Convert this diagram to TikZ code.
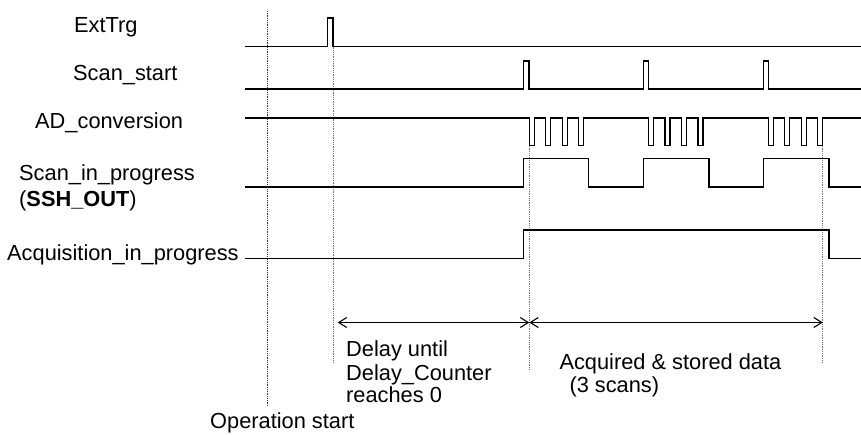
\documentclass[tikz,border=0pt]{standalone}
\usepackage{fontspec}
\setmainfont{Liberation Sans}
\usetikzlibrary{arrows.meta}
\begin{document}
\begin{tikzpicture}[x=1pt,y=-1pt,
  sig/.style={line width=1.2pt,line join=miter},
  guide/.style={densely dotted,line width=0.8pt,draw=black!55},
  lbl/.style={anchor=base west,inner sep=0pt,font=\fontsize{21.8}{24}\selectfont},
  dim/.style={line width=1.1pt,{Straight Barb[length=8pt,width=10pt,line width=1.1pt]}-{Straight Barb[length=8pt,width=10pt,line width=1.1pt]}}]
\useasboundingbox (0,0) rectangle (861,434);
% labels
\node[lbl] (lExt) at (74,32.5) {ExtTrg};
\node[lbl] (lScan) at (73,80) {Scan\_start};
\node[lbl] (lAD) at (35,128.3) {AD\_conversion};
\node[lbl] (lSip) at (19,180) {Scan\_in\_progress};
\node[lbl] (lSsh) at (19,206.7) {(\textbf{SSH\_OUT})};
\node[lbl] (lAcq) at (7,260) {Acquisition\_in\_progress};
\node[lbl] (lDelay1) at (346,356.5) {Delay until};
\node[lbl] (lDelay2) at (346,380) {Delay\_Counter};
\node[lbl] (lDelay3) at (346,402.5) {reaches 0};
\node[lbl] (lAcqd1) at (559.3,369.5) {Acquired \& stored data};
\node[lbl] (lAcqd2) at (569.3,392.5) {(3 scans)};
\node[lbl] (lOp) at (210,428.5) {Operation start};
% guide lines
\draw[guide,draw=black!80] (267.3,11) -- (267.3,406);
\draw[guide] (333,46.5) -- (333,363);
\draw[guide] (529.3,145.7) -- (529.3,370);
\draw[guide] (822.8,145.7) -- (822.8,363);
% ExtTrg
\draw[sig] (245,46.5) -- (327.5,46.5) -- (327.5,18) -- (333,18) -- (333,46.5) -- (861,46.5);
% Scan_start
\draw[sig] (245,89) -- (523.5,89) -- (523.5,61) -- (529,61) -- (529,89)
  -- (643.3,89) -- (643.3,61) -- (648.6,61) -- (648.6,89)
  -- (763.3,89) -- (763.3,61) -- (768.6,61) -- (768.6,89) -- (861,89);
% AD_conversion
\draw[sig] (245,118)
  \foreach \s in {529.3,648.5,768.3}{
    -- (\s,118)
    \foreach \k in {0,1,2,3}{
      -- ({\s+16.5*\k},118) -- ({\s+16.5*\k},145.7) -- ({\s+16.5*\k+5},145.7) -- ({\s+16.5*\k+5},118)
    }
  } -- (861,118);
% Scan_in_progress
\draw[sig] (245,187) -- (523.5,187) -- (523.5,158.5) -- (588.3,158.5) -- (588.3,187)
  -- (643.3,187) -- (643.3,158.5) -- (709,158.5) -- (709,187)
  -- (763.3,187) -- (763.3,158.5) -- (829,158.5) -- (829,187) -- (861,187);
% Acquisition_in_progress
\draw[sig] (245,258.3) -- (523.5,258.3) -- (523.5,230) -- (829,230) -- (829,258.3) -- (861,258.3);
% dimension arrows
\coordinate (dA) at (337.7,322.5);
\coordinate (dB) at (529.3,322.5);
\coordinate (dC) at (822.8,322.5);
\draw[dim] (dA) -- (dB);
\draw[dim] (dB) -- (dC);
\end{tikzpicture}
\end{document}
